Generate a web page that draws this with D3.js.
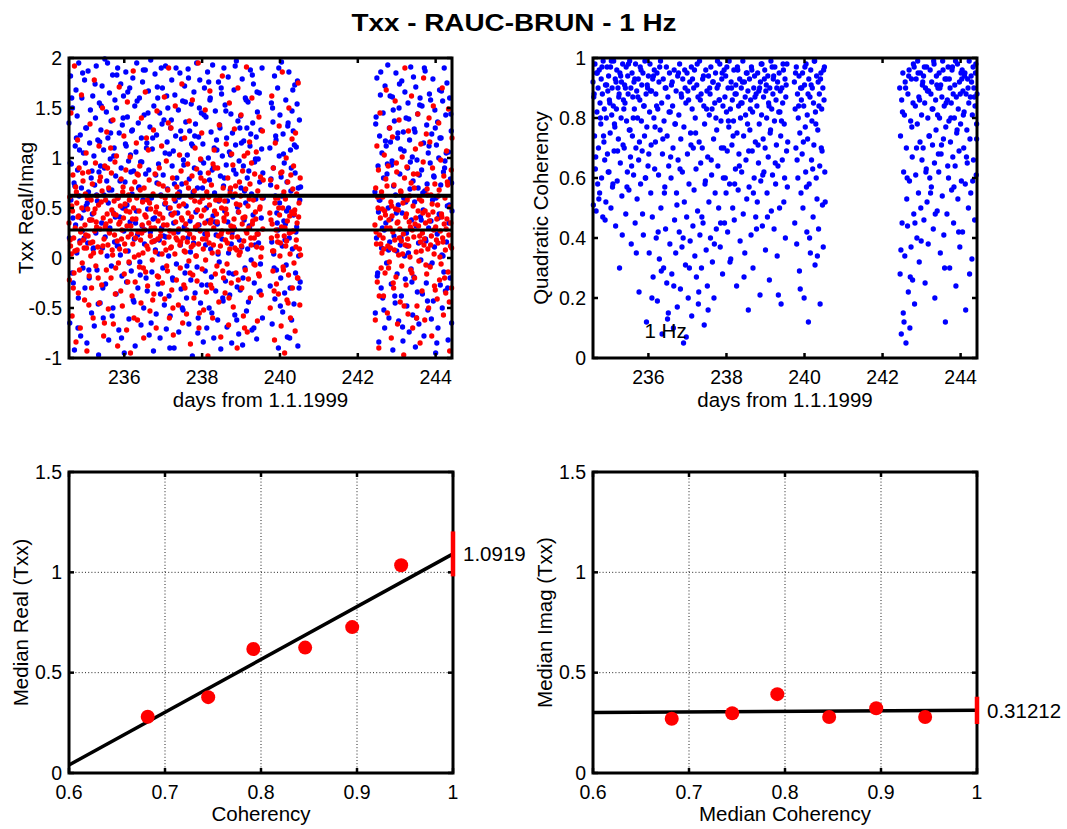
<!DOCTYPE html>
<html><head><meta charset="utf-8">
<script src="https://cdn.jsdelivr.net/npm/d3@7"></script>
<style>body{margin:0;background:#fff;} svg text{font-family:"Liberation Sans",Arial,sans-serif;fill:#000;}</style>
</head><body><svg id="c" width="1067" height="829"></svg>
<script>
// ---------- data ----------
const titleText = "Txx - RAUC-BRUN - 1 Hz";
const dayTicks = [236, 238, 240, 242, 244];
const dayDomain = [234.58, 244.42];
const txxTicks = [-1, -0.5, 0, 0.5, 1, 1.5, 2];
const cohTicks = [0, 0.2, 0.4, 0.6, 0.8, 1];
const medCohTicks = [0.6, 0.7, 0.8, 0.9, 1];
const medValTicks = [0, 0.5, 1, 1.5];

const days = [
234.58,234.59,234.60,234.62,234.63,234.64,234.66,234.67,234.68,234.70,234.71,234.72,234.74,234.75,234.76,
234.78,234.79,234.80,234.82,234.83,234.84,234.86,234.87,234.88,234.90,234.91,234.92,234.94,234.95,234.96,
234.98,234.99,235.00,235.02,235.03,235.04,235.06,235.07,235.08,235.10,235.11,235.12,235.14,235.15,235.16,
235.18,235.19,235.20,235.22,235.23,235.24,235.26,235.27,235.28,235.30,235.31,235.32,235.34,235.35,235.36,
235.38,235.39,235.40,235.42,235.43,235.44,235.46,235.47,235.48,235.50,235.51,235.52,235.54,235.55,235.56,
235.58,235.59,235.60,235.62,235.63,235.64,235.66,235.67,235.68,235.70,235.71,235.72,235.74,235.75,235.76,
235.78,235.79,235.80,235.82,235.83,235.84,235.86,235.87,235.88,235.90,235.91,235.92,235.94,235.95,235.96,
235.98,235.99,236.00,236.02,236.03,236.04,236.06,236.07,236.08,236.10,236.11,236.12,236.14,236.15,236.16,
236.18,236.19,236.20,236.22,236.23,236.24,236.26,236.27,236.28,236.30,236.31,236.32,236.34,236.35,236.36,
236.38,236.39,236.40,236.42,236.43,236.44,236.46,236.47,236.48,236.50,236.51,236.52,236.54,236.55,236.56,
236.58,236.59,236.60,236.62,236.63,236.64,236.66,236.67,236.68,236.70,236.71,236.72,236.74,236.75,236.76,
236.78,236.79,236.80,236.82,236.83,236.84,236.86,236.87,236.88,236.90,236.91,236.92,236.94,236.95,236.96,
236.98,236.99,237.00,237.02,237.03,237.04,237.06,237.07,237.08,237.10,237.11,237.12,237.14,237.15,237.16,
237.18,237.19,237.20,237.22,237.23,237.24,237.26,237.27,237.28,237.30,237.31,237.32,237.34,237.35,237.36,
237.38,237.39,237.40,237.42,237.43,237.44,237.46,237.47,237.48,237.50,237.51,237.52,237.54,237.55,237.56,
237.58,237.59,237.60,237.62,237.63,237.64,237.66,237.67,237.68,237.70,237.71,237.72,237.74,237.75,237.76,
237.78,237.79,237.80,237.82,237.83,237.84,237.86,237.87,237.88,237.90,237.91,237.92,237.94,237.95,237.96,
237.98,237.99,238.00,238.02,238.03,238.04,238.06,238.07,238.08,238.10,238.11,238.12,238.14,238.15,238.16,
238.18,238.19,238.20,238.22,238.23,238.24,238.26,238.27,238.28,238.30,238.31,238.32,238.34,238.35,238.36,
238.38,238.39,238.40,238.42,238.43,238.44,238.46,238.47,238.48,238.50,238.51,238.52,238.54,238.55,238.56,
238.58,238.59,238.60,238.62,238.63,238.64,238.66,238.67,238.68,238.70,238.71,238.72,238.74,238.75,238.76,
238.78,238.79,238.80,238.82,238.83,238.84,238.86,238.87,238.88,238.90,238.91,238.92,238.94,238.95,238.96,
238.98,238.99,239.00,239.02,239.03,239.04,239.06,239.07,239.08,239.10,239.11,239.12,239.14,239.15,239.16,
239.18,239.19,239.20,239.22,239.23,239.24,239.26,239.27,239.28,239.30,239.31,239.32,239.34,239.35,239.36,
239.38,239.39,239.40,239.42,239.43,239.44,239.46,239.47,239.48,239.50,239.51,239.52,239.54,239.55,239.56,
239.74,239.75,239.76,239.78,239.79,239.80,239.82,239.83,239.84,239.86,239.87,239.88,239.90,239.91,239.92,
239.94,239.95,239.96,239.98,239.99,240.00,240.02,240.03,240.04,240.06,240.07,240.08,240.10,240.11,240.12,
240.14,240.15,240.16,240.18,240.19,240.20,240.22,240.23,240.24,240.26,240.27,240.28,240.30,240.31,240.32,
240.34,240.35,240.36,240.38,240.39,240.40,240.42,240.43,240.44,240.46,240.47,240.48,240.50,240.51,240.52,
242.44,242.45,242.46,242.48,242.49,242.50,242.52,242.53,242.54,242.56,242.57,242.58,242.60,242.61,242.62,
242.64,242.65,242.66,242.68,242.69,242.70,242.72,242.73,242.74,242.76,242.77,242.78,242.80,242.81,242.82,
242.84,242.85,242.86,242.88,242.89,242.90,242.92,242.93,242.94,242.96,242.97,242.98,243.00,243.01,243.02,
243.04,243.05,243.06,243.08,243.09,243.10,243.12,243.13,243.14,243.16,243.17,243.18,243.20,243.21,243.22,
243.24,243.25,243.26,243.28,243.29,243.30,243.32,243.33,243.34,243.36,243.37,243.38,243.40,243.41,243.42,
243.44,243.45,243.46,243.48,243.49,243.50,243.52,243.53,243.54,243.56,243.57,243.58,243.60,243.61,243.62,
243.64,243.65,243.66,243.68,243.69,243.70,243.72,243.73,243.74,243.76,243.77,243.78,243.80,243.81,243.82,
243.84,243.85,243.86,243.88,243.89,243.90,243.92,243.93,243.94,243.96,243.97,243.98,244.00,244.01,244.02,
244.04,244.05,244.06,244.08,244.09,244.10,244.12,244.13,244.14,244.16,244.17,244.18,244.20,244.21,244.22,
244.24,244.25,244.26,244.28,244.29,244.30,244.32,244.33,244.34,244.36,244.37,244.38,244.40,244.41,244.42
];

// red series
const imagVals = [
.35,-.22,.61,.12,1.45,.04,-.58,.47,.83,.2,-.15,1.92,.3,.71,-.84,
.55,.08,1.18,-.35,.42,.9,.15,-.7,.26,1.63,.5,-.05,.77,.18,2.3,
-.42,.33,.64,1.05,.1,-.93,.49,.22,.86,-.18,.38,1.34,.02,.58,-.3,
.74,.16,-.6,.45,1.78,.27,.95,-.08,.36,.62,-1.2,.11,.53,1.12,-.45,
.29,.81,.06,-.27,.67,1.5,.4,-.78,.19,.92,.31,.58,-.12,1.26,.44,
.13,-.51,.7,.25,2.1,.37,-.2,.85,.48,.03,1.38,-.66,.57,.23,.96,
-.1,.43,1.02,.17,-.88,.6,.34,1.71,.09,.52,-.33,.79,.28,-.48,.66,
.4,1.22,-.16,.54,.07,.88,-.72,.32,1.56,.21,.63,-.04,.46,1.01,-.95,
.24,.69,-.38,.14,1.87,.5,.01,.76,-.24,.39,1.15,.6,-.62,.26,.83,
.47,-.09,.92,.18,-.45,1.4,.33,.56,.05,-.8,.7,.28,1.66,-.14,.41,
.12,.58,-.28,1.08,.35,.78,-.53,.22,.49,2.05,.16,-.02,.64,1.28,-.36,
.3,.84,.06,-.7,.51,1.47,.19,.37,-.19,.9,.44,-1.05,.27,.62,1.12,
-.25,.4,.72,.15,1.61,-.41,.55,.08,.97,.33,-.13,.68,1.9,.21,-.6,
.5,.1,1.3,-.32,.43,.8,-.77,.25,.59,.04,1.52,.36,-.22,.71,.18,
.63,-.47,.29,1.03,.13,-.1,.87,.4,1.74,-.65,.2,.54,.07,1.2,-.3,
.34,.75,-.56,.16,.94,.45,-.03,1.37,.24,-.86,.61,.11,.82,1.58,-.17,
.2,-.4,.67,1.1,.31,.02,.89,-.23,.48,1.95,.14,-.7,.56,.27,.99,
.42,1.25,-.11,.6,.09,-.52,.77,.35,1.48,.19,-.34,.66,.23,-.98,.85,
.15,.53,1.67,-.27,.38,.73,.05,-.6,.94,.3,1.08,.47,-.16,.58,2.2,
-.08,.36,.9,.22,-.44,1.33,.61,.12,-.79,.5,.27,1.82,.7,-.2,.4,
.57,-.35,.18,1.14,.44,-.06,.8,.26,-.67,1.55,.09,.65,.32,-.25,1.04,
.28,.93,-.49,.39,1.29,.1,.72,-.15,.54,-.9,.21,1.7,.46,.03,.76,
.06,.62,1.43,-.3,.34,.87,-.58,.17,1.02,.41,-.12,.69,1.91,.25,-.74,
.52,-.21,.3,1.16,.74,-.4,.13,.95,1.6,.37,-1.1,.58,.2,.84,-.07,
.39,1.06,.11,-.63,.67,.24,1.41,-.18,.49,.81,.01,-.37,.6,1.27,.29,
.45,-.5,.78,.2,1.62,.34,-.13,.9,.07,-.82,.55,1.15,.28,-.26,.71,
.16,.6,-.36,1.32,.43,.02,.85,-.68,.31,1.86,.5,-.09,.66,.22,-.95,
.59,.12,1.0,-.42,.37,.76,-.17,1.5,.25,.04,-.6,.83,.46,1.19,-.3,
.27,.92,-.05,.48,-.73,1.25,.18,.64,.35,-.2,1.75,.41,.09,-.47,.8,
.33,-.62,.7,.14,1.12,-.24,.5,.88,-.9,.23,1.45,.4,-.1,.66,.05,
.61,.2,-.38,1.03,.47,-.15,.79,1.68,.3,-.55,.12,.92,.38,-.04,1.3,
.1,.56,-.8,.42,1.21,.26,-.3,.73,.08,1.57,.49,-.19,.86,.35,-.66,
.48,.03,1.38,.29,-.44,.67,.17,-.08,1.01,.55,.24,-.97,.8,1.9,.13,
-.27,.44,.91,.19,-.56,1.27,.36,.62,.01,-.12,.75,1.62,.28,-.7,.52,
.21,.7,-.2,1.09,.4,.06,-.48,.84,1.44,.32,-.03,.59,-.85,.16,1.14,
.57,-.33,.25,.96,1.8,.13,-.62,.47,.35,1.24,-.16,.69,.09,.43,-.5,
.37,1.16,-.09,.63,.22,-.78,.9,.46,1.52,.04,-.28,.74,.31,2.15,.18,
-.41,.53,.15,1.35,.68,-.22,.27,.98,-.06,.41,1.7,.2,-.57,.82,.34,
.6,.08,-.35,1.07,.39,.76,-.14,1.49,.23,-.93,.51,.12,.88,-.3,1.2
];

// blue series
const realVals = [
1.35,.2,-.65,1.82,.58,.94,-.15,1.5,.4,2.1,.75,-.92,1.12,.33,1.68,
.05,1.42,.88,-.4,1.95,.62,.17,1.23,-.78,.7,1.6,.27,-.1,1.05,.48,
1.78,-.3,.95,.52,1.3,-.85,.15,1.87,.66,-.2,1.15,.38,2.3,.8,-.55,
.44,1.62,.09,1.02,-.68,.73,1.4,.25,1.92,-.12,.57,1.18,-.97,.86,1.55,
-.45,.92,1.28,.35,1.72,.1,-.6,1.08,.63,1.99,.21,-.26,1.46,.77,.02,
1.2,.55,-.82,1.65,.3,.99,1.37,-.08,.68,1.83,-.5,.45,1.1,.16,1.58,
.82,-.36,1.5,.12,1.9,.6,-.72,1.25,.41,.03,1.74,.9,-.18,1.33,.5,
1.62,.27,-.95,.76,1.14,1.86,-.24,.53,1.41,.07,.97,-.61,1.7,.36,1.03,
-.13,1.27,.64,1.8,-.42,.87,.19,1.52,-.88,1.06,.47,1.95,.23,-.3,1.35,
.71,1.6,-.04,.96,-.67,1.2,.32,1.76,.58,-.5,1.43,.14,1.88,.84,-.2,
1.15,-.33,.49,1.67,.88,-.77,1.31,.26,1.98,.6,-.14,1.09,.39,-.93,1.52,
.4,1.84,.08,-.56,1.23,.75,1.6,-.26,.94,.18,1.45,-.8,.63,1.9,.3,
1.7,-.1,.83,1.38,-.47,.54,1.92,.21,-.71,1.16,.69,1.5,.02,-.38,1.04,
-.58,1.3,.44,1.78,.92,-.2,1.07,.35,-.9,1.63,.57,1.22,-.06,.8,2.05,
.26,1.48,-.74,.66,1.85,.13,-.31,1.19,.74,1.57,-.52,.98,.31,1.72,-.15,
1.36,.52,-.4,1.03,.2,1.89,-.66,.79,1.27,.06,-.22,1.54,.62,-.98,1.12,
.15,1.66,.9,-.35,1.34,.46,1.95,-.09,.7,-.6,1.21,.33,1.78,.85,-.45,
1.45,-.27,.6,1.14,-.84,.95,1.7,.24,-.13,1.41,.5,-.7,1.86,.37,1.0,
-.5,.78,1.58,.09,1.26,-.19,.88,1.93,.42,-.8,1.1,.65,1.47,-.33,.23,
1.08,.34,-.62,1.76,.57,-.04,1.3,.82,-.91,1.64,.19,1.02,-.43,.72,1.9,
.47,1.53,-.23,.93,1.2,-.69,.36,1.81,.05,1.06,-.37,.68,1.44,.14,-.85,
1.25,.61,-.16,1.68,.29,-.57,1.13,.84,1.97,-.29,.51,1.37,-.76,.97,.18,
-.32,1.42,.7,.11,1.79,-.87,.92,1.17,.38,-.1,1.6,.55,-.53,1.3,.8,
1.56,-.44,.87,.3,1.12,1.88,-.02,.64,-.72,1.35,.43,1.74,-.25,.96,.13,
.59,1.21,-.81,1.46,.24,.99,-.34,1.65,.76,-.06,1.28,.4,1.9,-.6,.85,
1.1,-.28,.73,1.55,.16,-.66,1.36,.9,.04,1.82,-.41,.62,1.18,-.12,.45,
1.7,.28,-.9,1.02,.55,1.43,-.2,.81,1.96,.12,-.54,1.24,.37,.95,-.35,
.34,1.58,-.07,.76,-.79,1.32,.5,1.86,.2,-.3,1.08,.67,-.62,1.47,.09,
1.27,.43,-.46,1.73,.85,-.15,1.11,.31,1.54,-.88,.7,.02,1.38,.58,-.24,
.66,-.55,1.34,.2,1.8,-.18,.92,.46,-.84,1.22,.58,1.63,-.3,.1,1.05,
-.4,1.45,.8,.28,-.7,1.72,.35,1.12,-.05,.94,1.93,.5,-.6,1.3,.16,
1.16,.39,-.26,.97,1.61,-.92,.72,.22,1.37,-.45,.63,1.85,.07,-.16,1.2,
.53,-.63,1.5,.84,.13,1.09,-.38,1.77,.45,-.83,1.26,.6,.02,1.66,-.21,
1.4,.25,-.48,.9,1.55,.05,-.74,1.18,.69,1.91,-.11,.38,1.01,-.57,.77,
-.19,1.29,.56,-.89,1.71,.32,.98,-.34,1.44,.15,-.66,.83,1.6,.41,-.02,
.88,1.52,-.36,.48,1.15,-.78,.67,1.87,.19,-.25,1.33,.74,-.52,1.05,.3,
1.64,-.08,.95,.37,-.61,1.24,.58,1.79,-.43,.81,.11,1.48,-.95,.6,1.13,
.24,1.36,-.7,1.0,.44,1.68,-.27,.73,1.2,.03,-.5,1.57,.86,-.14,1.9,
.97,-.33,1.43,.16,1.75,.52,-.82,1.06,.35,1.6,-.2,.79,1.27,-.65,.47
];

const cohVals = [
.92,.51,.87,.74,.98,.63,.49,.95,.82,.58,.9,.7,.96,.55,.85,
.78,.93,.6,.88,.47,.99,.72,.83,.66,.91,.52,.8,.97,.68,.89,
.94,.62,.86,.75,.97,.5,.81,.9,.57,.84,.99,.69,.77,.93,.44,
.83,.96,.59,.9,.73,.87,.3,.95,.65,.8,.92,.54,.98,.71,.86,
.7,.91,.85,.48,.97,.79,.62,.94,.88,.56,.76,.99,.67,.9,.38,
.95,.74,.87,.61,.92,.83,.45,.98,.7,.89,.53,.8,.93,.66,.22,
.86,.97,.58,.79,.91,.69,.95,.41,.84,.74,.99,.6,.88,.12,.77,
.9,.64,.94,.35,.82,.98,.55,.71,.89,.47,.93,.27,.8,.96,.63,
.72,.88,.4,.95,.19,.83,.61,.92,.33,.76,.99,.5,.85,.08,.68,
.93,.3,.79,.57,.9,.43,.97,.25,.74,.87,.15,.64,.95,.38,.82,
.6,.91,.28,.84,.7,.1,.96,.46,.78,.35,.89,.55,.17,.94,.66,
.81,.42,.98,.23,.73,.88,.37,.62,.93,.05,.77,.52,.9,.31,.85,
.47,.95,.68,.2,.86,.58,.92,.39,.75,.97,.14,.83,.44,.7,.9,
.96,.34,.8,.63,.27,.91,.49,.87,.18,.72,.99,.41,.65,.88,.3,
.7,.93,.45,.84,.11,.78,.59,.96,.36,.89,.24,.67,.94,.52,.81,
.88,.4,.97,.61,.83,.32,.92,.73,.2,.85,.55,.95,.43,.76,.9,
.64,.91,.5,.86,.98,.37,.79,.7,.93,.28,.84,.6,.96,.45,.87,
.94,.55,.82,.69,.42,.9,.77,.99,.58,.83,.33,.92,.71,.86,.5,
.79,.96,.46,.88,.63,.91,.24,.75,.97,.56,.84,.68,.93,.39,.8,
.9,.62,.85,.99,.48,.74,.92,.35,.87,.66,.95,.53,.78,.89,.16,
.57,.93,.76,.86,.41,.97,.69,.82,.3,.9,.6,.94,.72,.47,.88,
.84,.52,.95,.65,.89,.78,.21,.92,.59,.81,.98,.44,.73,.87,.62,
.96,.7,.36,.91,.8,.55,.94,.67,.85,.26,.9,.75,.99,.49,.83,
.61,.88,.93,.43,.79,.97,.58,.86,.71,.34,.92,.64,.82,.95,.5,
.89,.74,.18,.9,.66,.85,.96,.52,.78,.93,.4,.87,.69,.98,.57,
.92,.45,.83,.7,.97,.38,.88,.6,.8,.94,.29,.75,.9,.55,.86,
.68,.95,.5,.84,.2,.91,.77,.62,.98,.42,.81,.73,.12,.93,.58,
.87,.35,.96,.66,.79,.9,.47,.85,.71,.99,.31,.82,.6,.94,.53,
.76,.92,.43,.88,.64,.18,.95,.7,.83,.51,.9,.37,.86,.97,.62,
.9,.28,.74,.08,.86,.45,.95,.15,.62,.81,.34,.92,.05,.7,.53,
.44,.88,.22,.96,.59,.1,.79,.37,.93,.67,.26,.85,.48,.97,.18,
.84,.61,.93,.4,.78,.99,.55,.87,.32,.72,.95,.5,.81,.66,.91,
.7,.94,.46,.85,.25,.9,.63,.97,.52,.8,.38,.89,.74,.6,.96,
.88,.57,.92,.71,.83,.43,.98,.65,.2,.86,.76,.94,.49,.81,.9,
.62,.95,.8,.35,.91,.68,.87,.54,.99,.73,.41,.84,.93,.12,.77,
.93,.48,.86,.97,.6,.79,.3,.9,.72,.85,.56,.96,.67,.88,.45,
.8,.91,.64,.24,.87,.75,.98,.53,.83,.69,.92,.37,.78,.95,.59,
.96,.42,.89,.7,.82,.94,.58,.16,.88,.76,.65,.93,.5,.85,.99,
.73,.87,.55,.92,.33,.81,.97,.66,.9,.46,.84,.95,.61,.78,.88
];

// interleaved windows (second pass of estimates)
const days2 = [
234.61,234.65,234.69,234.73,234.77, 234.81,234.85,234.89,234.93,234.97,
235.01,235.05,235.09,235.13,235.17, 235.21,235.25,235.29,235.33,235.37,
235.41,235.45,235.49,235.53,235.57, 235.61,235.65,235.69,235.73,235.77,
235.81,235.85,235.89,235.93,235.97, 236.01,236.05,236.09,236.13,236.17,
236.21,236.25,236.29,236.33,236.37, 236.41,236.45,236.49,236.53,236.57,
236.61,236.65,236.69,236.73,236.77, 236.81,236.85,236.89,236.93,236.97,
237.01,237.05,237.09,237.13,237.17, 237.21,237.25,237.29,237.33,237.37,
237.41,237.45,237.49,237.53,237.57, 237.61,237.65,237.69,237.73,237.77,
237.81,237.85,237.89,237.93,237.97, 238.01,238.05,238.09,238.13,238.17,
238.21,238.25,238.29,238.33,238.37, 238.41,238.45,238.49,238.53,238.57,
238.61,238.65,238.69,238.73,238.77, 238.81,238.85,238.89,238.93,238.97,
239.01,239.05,239.09,239.13,239.17, 239.21,239.25,239.29,239.33,239.37,
239.41,239.45,239.49,239.53,239.57,
239.77,239.81,239.85,239.89,239.93, 239.97,240.01,240.05,240.09,240.13,
240.17,240.21,240.25,240.29,240.33, 240.37,240.41,240.45,240.49,240.53,
242.47,242.51,242.55,242.59,242.63, 242.67,242.71,242.75,242.79,242.83,
242.87,242.91,242.95,242.99,243.03, 243.07,243.11,243.15,243.19,243.23,
243.27,243.31,243.35,243.39,243.43, 243.47,243.51,243.55,243.59,243.63,
243.67,243.71,243.75,243.79,243.83, 243.87,243.91,243.95,243.99,244.03,
244.07,244.11,244.15,244.19,244.23, 244.27,244.31,244.35,244.39,244.41
];
const imagVals2 = [
.18,.52,-.3,.07,.66, .41,-.12,.29,.85,.1, .23,.6,-.47,.15,.38, .05,.49,.31,-.2,.77,
.56,.12,-.65,.34,.9, .27,1.1,.08,.44,-.36, .62,-.05,.36,.19,.71, .14,.47,-.24,.58,.32,
.39,-.6,.2,.84,.03, .68,.25,-.1,.43,1.2, .09,.55,.3,-.42,.17, .46,-.18,.74,.22,.04,
.33,.6,-.08,1.35,.27, .11,-.5,.45,.2,.64, .52,.16,.38,-.27,.06, .28,.7,-.15,.41,.13,
.57,.02,.33,-.55,.8, .19,.48,-.02,.25,.61, .35,-.3,.13,.9,.44, .06,.58,.24,-.13,.37,
.49,.15,-.4,.7,.21, .31,.64,.08,-.22,.53, .12,.4,-.7,.27,1.05, .59,.2,.34,-.06,.46,
.24,-.16,.51,.1,.78,
.38,.07,-.33,.6,.22, .5,.15,.86,-.12,.3, .17,-.45,.42,.26,.69, .44,.11,-.2,.55,.03,
.26,.61,-.38,.14,.49, .09,.43,.72,-.1,.3, .52,-.25,.18,.95,.36, .2,.66,.04,-.48,.41,
.58,.12,.31,-.15,.84, .34,-.6,.47,.22,.07, .45,.19,-.07,.63,1.4, .13,.54,.28,-.32,.39,
.62,.01,.44,.16,-.2, .29,.73,-.44,.35,.1
];
const realVals2 = [
.95,1.6,-.25,.72,1.2, -.7,1.08,.4,1.85,.2, 1.3,.55,-.12,1.48,.87, .1,1.74,.63,-.46,1.16,
1.52,-.3,.9,.3,1.95, .68,1.25,-.58,1.02,.41, 1.83,.12,.77,-.8,1.4, .5,1.12,1.66,-.05,.86,
1.28,-.44,.35,1.57,.7, -.17,.96,1.88,.28,1.1, 1.45,.6,-.65,1.2,.17, .83,1.71,.04,-.36,1.34,
.22,1.05,1.62,.5,-.9, 1.38,-.22,.74,1.9,.45, .61,1.27,-.5,.93,1.56, -.08,1.8,.37,1.14,.66,
1.22,.29,-.75,1.5,.98, .7,1.43,.13,-.27,1.76, 1.6,-.55,.91,.36,1.18, .04,1.33,1.7,-.4,.8,
1.47,.57,-.15,1.03,.25, .88,1.92,-.62,.46,1.3, 1.15,-.2,.67,1.58,.09, .32,1.24,1.83,-.7,.99,
1.66,.15,-.33,1.09,.6,
.79,1.5,-.1,1.22,.35, 1.9,-.48,.62,1.04,.18, .47,1.35,-.8,.9,1.68, 1.13,.26,1.77,-.3,.71,
1.41,-.15,.58,1.86,.3, -.52,1.17,.84,.08,1.62, .93,1.48,-.38,.45,1.25, 1.74,.2,-.69,1.07,.56,
.12,1.39,.96,-.24,1.81, 1.26,-.6,.7,1.53,.38, .65,1.9,.17,-.43,1.12, 1.58,-.05,.82,1.3,-.85,
.4,1.2,1.67,.02,.9, 1.05,-.3,.53,1.44,.75
];
const cohVals2 = [
.88,.67,.95,.53,.8, .97,.74,.46,.91,.62, .85,.99,.58,.78,.92, .69,.88,.94,.41,.83,
.9,.57,.98,.76,.64, .8,.93,.35,.87,.72, .96,.48,.84,.6,.91, .68,.89,.2,.94,.77,
.84,.42,.97,.29,.73, .55,.9,.13,.82,.67, .92,.24,.78,.51,.95, .63,.87,.4,.96,.07,
.89,.3,.71,.93,.56, .75,.98,.22,.86,.47, .94,.58,.83,.16,.9, .66,.92,.38,.8,.99,
.86,.45,.95,.7,.6, .97,.79,.32,.9,.74, .58,.88,.96,.64,.85, .92,.27,.81,.95,.69,
.83,.96,.55,.87,.43, .71,.9,.98,.61,.93, .89,.47,.84,.76,.97, .94,.65,.9,.21,.82,
.79,.98,.6,.91,.72,
.95,.66,.84,.23,.9, .72,.97,.57,.88,.4, .91,.63,.99,.78,.34, .84,.93,.69,.96,.52,
.36,.82,.12,.9,.6, .94,.27,.77,.98,.45, .7,.95,.86,.39,.92, .97,.62,.89,.74,.55,
.83,.99,.48,.91,.68, .9,.71,.96,.3,.85, .64,.93,.8,.97,.57, .99,.76,.42,.88,.93,
.81,.95,.67,.9,.28, .94,.59,.87,.98,.73
];

const medianLines = [0.623, 0.28];   // reference lines in the time-series panel
const hzLabel = {day: 235.9, coh: 0.09, text: "1 Hz"};

const binCoh  = [0.682, 0.745, 0.792, 0.846, 0.895, 0.946];
const binReal = [0.28, 0.378, 0.618, 0.625, 0.727, 1.035];
const binImag = [0.27, 0.298, 0.393, 0.279, 0.323, 0.279];
const fitCoh  = [0.6, 1.0];
const fitReal = [0.04, 1.0919];
const fitImag = [0.302, 0.31212];
const errReal = 0.112;
const errImag = 0.068;

// ---------- drawing ----------
const svg = d3.select("#c");
svg.append("rect").attr("width",1067).attr("height",829).attr("fill","#fff");

const P = {
  tl:{x:69,y:58,w:383,h:300},
  tr:{x:593,y:58,w:384,h:300},
  bl:{x:69,y:472,w:384,h:301},
  br:{x:593,y:472,w:384,h:301}
};
const TICK_FS = 19.5, LAB_FS = 20.5;

function gridLines(p, xs, ys, xt, yt){
  const g = svg.append("g");
  xt.forEach(v=>{ const X=xs(v); if (X>p.x+2 && X<p.x+p.w-2)
    g.append("line").attr("x1",X).attr("x2",X).attr("y1",p.y).attr("y2",p.y+p.h)
     .attr("stroke","#222").attr("stroke-width",1).attr("stroke-dasharray","1,2.2");});
  yt.forEach(v=>{ const Y=ys(v); if (Y>p.y+2 && Y<p.y+p.h-2)
    g.append("line").attr("y1",Y).attr("y2",Y).attr("x1",p.x).attr("x2",p.x+p.w)
     .attr("stroke","#222").attr("stroke-width",1).attr("stroke-dasharray","1,2.2");});
}
function box(p, xs, ys, xt, yt, xlab, ylab, ylabX, xlabY){
  const g = svg.append("g");
  const tl = 5;
  xt.forEach(v=>{ const X=xs(v);
    g.append("line").attr("x1",X).attr("x2",X).attr("y1",p.y+p.h).attr("y2",p.y+p.h-tl).attr("stroke","#000").attr("stroke-width",2.5);
    g.append("line").attr("x1",X).attr("x2",X).attr("y1",p.y).attr("y2",p.y+tl).attr("stroke","#000").attr("stroke-width",2.5);
    g.append("text").attr("x",X).attr("y",p.y+p.h+26).attr("text-anchor","middle")
      .attr("font-size",TICK_FS).text(String(v));
  });
  yt.forEach(v=>{ const Y=ys(v);
    g.append("line").attr("x1",p.x).attr("x2",p.x+tl).attr("y1",Y).attr("y2",Y).attr("stroke","#000").attr("stroke-width",2.5);
    g.append("line").attr("x1",p.x+p.w).attr("x2",p.x+p.w-tl).attr("y1",Y).attr("y2",Y).attr("stroke","#000").attr("stroke-width",2.5);
    g.append("text").attr("x",p.x-7).attr("y",Y).attr("dy","0.35em").attr("text-anchor","end")
      .attr("font-size",TICK_FS).text(String(v));
  });
  g.append("rect").attr("x",p.x).attr("y",p.y).attr("width",p.w).attr("height",p.h)
    .attr("fill","none").attr("stroke","#000").attr("stroke-width",3);
  g.append("text").attr("x",p.x+p.w/2).attr("y",xlabY).attr("text-anchor","middle")
    .attr("font-size",LAB_FS).text(xlab);
  g.append("text").attr("transform",`translate(${ylabX},${p.y+p.h/2}) rotate(-90)`)
    .attr("text-anchor","middle").attr("font-size",LAB_FS).text(ylab);
}

// title
svg.append("text").attr("x",514).attr("y",31).attr("text-anchor","middle")
  .attr("font-size",24).attr("font-weight","bold")
  .attr("textLength",325).attr("lengthAdjust","spacingAndGlyphs").text(titleText);

const allDays = days.concat(days2);
const allImag = imagVals.concat(imagVals2);
const allReal = realVals.concat(realVals2);
const allCoh  = cohVals.concat(cohVals2);
const dot = d3.symbol().type(d3.symbolCircle).size(22);

// ---- top-left: Txx real/imag vs time
{
  const p=P.tl;
  const xs=d3.scaleLinear().domain(dayDomain).range([p.x,p.x+p.w]);
  const ys=d3.scaleLinear().domain([-1,2]).range([p.y+p.h,p.y]);
  const g=svg.append("g");
  const drawSeries=(vals,col)=>{
    allDays.forEach((d,i)=>{ const v=vals[i]; if (v===undefined||v<-1||v>2) return;
      g.append("path").attr("d",dot).attr("transform",`translate(${xs(d)},${ys(v)})`).attr("fill",col);});
  };
  drawSeries(allReal,"#0000ff");
  drawSeries(allImag,"#ff0000");
  medianLines.forEach((m,k)=>{
    g.append("line").attr("x1",p.x).attr("x2",p.x+p.w).attr("y1",ys(m)).attr("y2",ys(m))
      .attr("stroke","#000").attr("stroke-width",k===0?4:3);
  });
  box(p,xs,ys,dayTicks,txxTicks,"days from 1.1.1999","Txx Real/Imag",33,p.y+p.h+49);
}

// ---- top-right: coherency vs time
{
  const p=P.tr;
  const xs=d3.scaleLinear().domain(dayDomain).range([p.x,p.x+p.w]);
  const ys=d3.scaleLinear().domain([0,1]).range([p.y+p.h,p.y]);
  const g=svg.append("g");
  allDays.forEach((d,i)=>{ const v=allCoh[i]; if (v===undefined||v<0||v>1) return;
    g.append("path").attr("d",dot).attr("transform",`translate(${xs(d)},${ys(v)})`).attr("fill","#0000ff");});
  g.append("text").attr("x",xs(hzLabel.day)).attr("y",ys(hzLabel.coh)).attr("dy","0.35em")
    .attr("font-size",LAB_FS).text(hzLabel.text);
  box(p,xs,ys,dayTicks,cohTicks,"days from 1.1.1999","Quadratic Coherency",548,p.y+p.h+49);
}

// ---- bottom panels
function medPanel(p, vals, fit, err, ylab, xlab, ylabX){
  const xs=d3.scaleLinear().domain([0.6,1]).range([p.x,p.x+p.w]);
  const ys=d3.scaleLinear().domain([0,1.5]).range([p.y+p.h,p.y]);
  gridLines(p,xs,ys,medCohTicks,medValTicks);
  const g=svg.append("g");
  g.append("line").attr("x1",xs(fitCoh[0])).attr("y1",ys(fit[0])).attr("x2",xs(fitCoh[1])).attr("y2",ys(fit[1]))
    .attr("stroke","#000").attr("stroke-width",3.5);
  binCoh.forEach((c,i)=>{
    g.append("circle").attr("cx",xs(c)).attr("cy",ys(vals[i])).attr("r",7).attr("fill","#ff0000");
  });
  box(p,xs,ys,medCohTicks,medValTicks,xlab,ylab,ylabX,p.y+p.h+48);
  svg.append("line").attr("x1",xs(1)).attr("x2",xs(1)).attr("y1",ys(fit[1]-err)).attr("y2",ys(fit[1]+err))
    .attr("stroke","#ff0000").attr("stroke-width",4.5);
  svg.append("text").attr("x",xs(1)+10).attr("y",ys(fit[1])).attr("dy","0.35em")
    .attr("font-size",LAB_FS).text(String(fit[1]));
}
medPanel(P.bl, binReal, fitReal, errReal, "Median Real (Txx)", "Coherency", 28);
medPanel(P.br, binImag, fitImag, errImag, "Median Imag (Txx)", "Median Coherency", 552);
</script></body></html>
